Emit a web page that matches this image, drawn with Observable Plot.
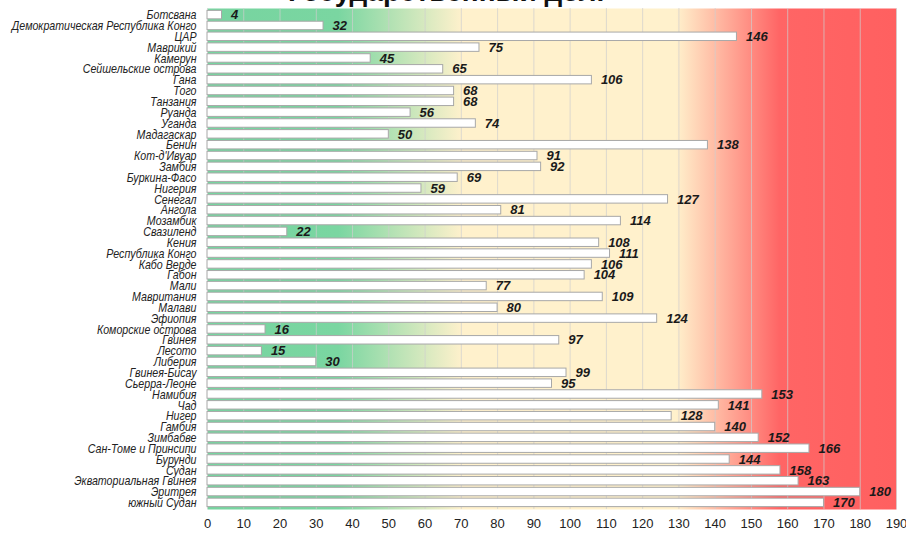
<!DOCTYPE html>
<html><head><meta charset="utf-8">
<script src="https://cdn.jsdelivr.net/npm/d3@7"></script>
<script src="https://cdn.jsdelivr.net/npm/@observablehq/plot@0.6"></script>
<style>
body{margin:0;background:#fff;overflow:hidden;}
#wrap{position:relative;width:906px;height:534px;}
#title{position:absolute;left:0;width:896px;top:-22px;text-align:center;font:bold 28px "Liberation Sans",Arial,sans-serif;color:#111;line-height:1;}
</style></head>
<body><div id="wrap"><div id="title">Государственный долг</div></div>
<script>
const countries = ["Ботсвана","Демократическая Республика Конго","ЦАР","Маврикий","Камерун","Сейшельские острова","Гана","Того","Танзания","Руанда","Уганда","Мадагаскар","Бенин","Кот-д'Ивуар","Замбия","Буркина-Фасо","Нигерия","Сенегал","Ангола","Мозамбик","Свазиленд","Кения","Республика Конго","Кабо Верде","Габон","Мали","Мавритания","Малави","Эфиопия","Коморские острова","Гвинея","Лесото","Либерия","Гвинея-Бисау","Сьерра-Леоне","Намибия","Чад","Нигер","Гамбия","Зимбабве","Сан-Томе и Принсипи","Бурунди","Судан","Экваториальная Гвинея","Эритрея","южный Судан"];
const debt = [4,32,146,75,45,65,106,68,68,56,74,50,138,91,92,69,59,127,81,114,22,108,111,106,104,77,109,80,124,16,97,15,30,99,95,153,141,128,140,152,166,144,158,163,180,170];
const xTicks = d3.range(0, 191, 10);

const data = countries.map((c, i) => ({country: c, value: debt[i]}));

const chart = Plot.plot({
  width: 906, height: 534,
  marginLeft: 207, marginRight: 10, marginTop: 8, marginBottom: 25,
  style: {background: "transparent", fontFamily: "Liberation Sans, Arial, sans-serif"},
  x: {domain: [0, 190], ticks: xTicks, label: null, tickSize: 0, tickPadding: 9},
  y: {domain: countries, label: null, padding: 0.22, tickSize: 0, tickPadding: 9},
  marks: [
    Plot.frame({fill: "url(#bgGrad)", stroke: "none"}),
    Plot.gridX(xTicks, {stroke: "#cfcfcf", strokeOpacity: 0.7}),
    Plot.barX(data, {x: "value", y: "country", fill: "white", stroke: "#a8a8a8", strokeWidth: 1}),
    Plot.text(data, {x: "value", y: "country", text: d => String(d.value), textAnchor: "start", dx: 9,
      fontWeight: "bold", fontStyle: "italic", fontSize: 13, fill: "#1a1a1a"}),
    Plot.axisY({tickSize: 0, tickPadding: 11, fontSize: 13, fontStyle: "italic", fill: "#222", label: null}),
    Plot.axisX(xTicks, {tickSize: 0, tickPadding: 9, fontSize: 13, fill: "#222", label: null})
  ]
});

const svg = d3.select(chart);
svg.selectAll('g[aria-label="y-axis tick label"] text').each(function() {
  const t = this.getAttribute("transform") || "";
  this.setAttribute("transform", t + " scale(0.82,1)");
});
const defs = svg.insert("defs", ":first-child");
const g = defs.append("linearGradient").attr("id", "bgGrad").attr("x1", "0").attr("x2", "1").attr("y1", "0").attr("y2", "0");
[[0, "#77d4a0"], [0.19, "#7ad6a1"], [0.37, "#fff1cc"], [0.68, "#fff1cc"], [0.83, "#ff6565"], [1, "#ff6060"]]
  .forEach(([o, c]) => g.append("stop").attr("offset", o).attr("stop-color", c));
chart.style.position = "absolute";
chart.style.left = "0"; chart.style.top = "0";
document.getElementById("wrap").appendChild(chart);
</script></body></html>
